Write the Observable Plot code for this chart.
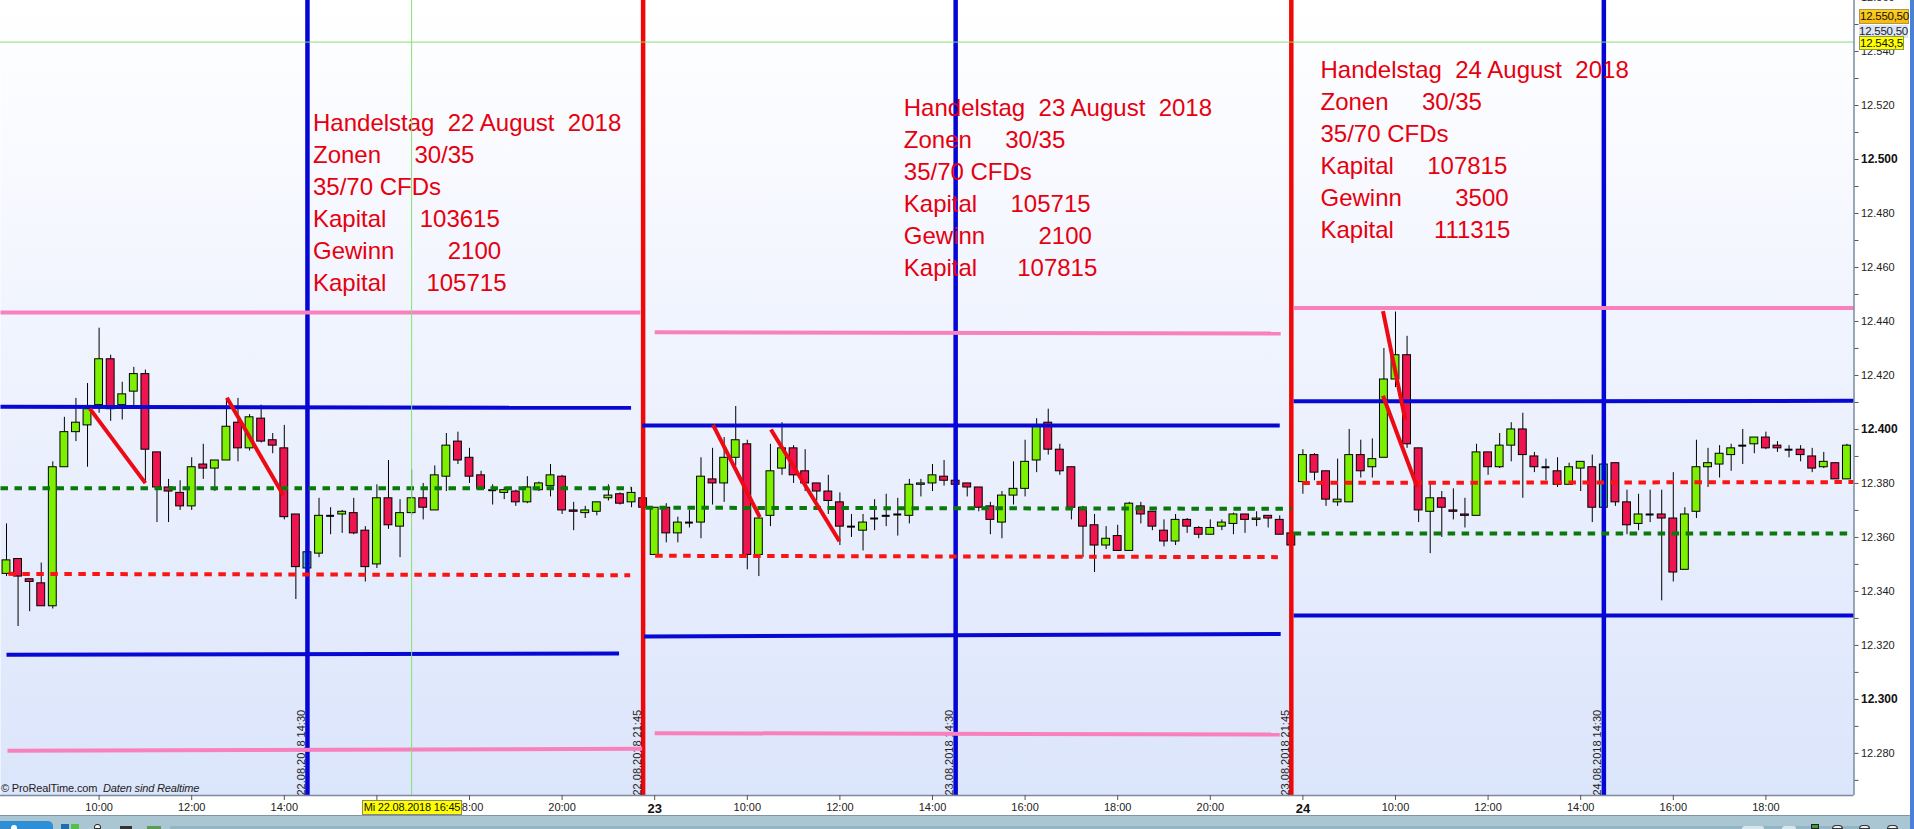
<!DOCTYPE html>
<html lang="de">
<head>
<meta charset="utf-8">
<title>Handelstage 22.–24. August 2018</title>
<script src="https://cdn.jsdelivr.net/npm/d3@7"></script>
<script src="https://cdn.jsdelivr.net/npm/@observablehq/plot@0.6"></script>
<style>
  html, body { margin: 0; padding: 0; background: #fff; overflow: hidden; }
  #page { position: relative; width: 1914px; height: 829px; overflow: hidden; font-family: "Liberation Sans", Arial, sans-serif; }
  #chart svg { display: block; }
  .tag { position: absolute; box-sizing: border-box; font-size: 11.5px; line-height: 13px; color: #111; white-space: pre; text-align: center; letter-spacing: -.25px; }
  .abs { position: absolute; }
</style>
</head>
<body>
<div id="page">
  <div id="chart"></div>
  <div class="abs" style="left:1px;top:782px;font-size:11px;line-height:13px;color:#222;white-space:pre;letter-spacing:-.15px">© ProRealTime.com  <i>Daten sind Realtime</i></div>
  <div class="tag" style="left:1859px;top:25px;width:49px;height:13px;background:#dbe5f6;color:#222">12.550,50</div>
  <div class="tag" style="left:1859px;top:9px;width:50px;height:15px;background:linear-gradient(#fdd020,#f9b90a);border:1px solid #a89a4a">12.550,50</div>
  <div class="tag" style="left:1859px;top:36px;width:45px;height:14px;background:#ffff00;border:1px solid #8a9a4a">12.543,5</div>
  <div class="tag" style="left:362px;top:800px;width:100px;height:15px;background:#ffff00;border:1px solid #8a8a6a;font-size:11px;letter-spacing:-.2px">Mi 22.08.2018 16:45</div>
  <div class="abs" style="left:0;top:815px;width:1914px;height:14px;background:#a9c6d2;border-top:1px solid #7d97a6;box-sizing:border-box"></div>
  <div class="abs" style="left:0;top:821px;width:53px;height:8px;background:#2e8fd6;border-radius:0 5px 0 0"></div>
  <div class="abs" style="left:11px;top:825px;width:6px;height:4px;background:#fff;border-radius:3px 3px 0 0"></div>
  <div class="abs" style="left:61px;top:824px;width:8px;height:5px;background:#1f6fb0"></div>
  <div class="abs" style="left:71px;top:824px;width:8px;height:5px;background:#53c04a"></div>
  <div class="abs" style="left:94px;top:824px;width:7px;height:5px;background:#f4f4f4;border:1px solid #222;border-radius:3px 3px 0 0;box-sizing:border-box"></div>
  <div class="abs" style="left:120px;top:826px;width:12px;height:3px;background:#333"></div>
  <div class="abs" style="left:147px;top:826px;width:14px;height:3px;background:#5a9a5a"></div>
  <div class="abs" style="left:170px;top:826px;width:1700px;height:3px;background:#94b5c3"></div>
  <div class="abs" style="left:1742px;top:826px;width:22px;height:3px;background:#d6e6ee;border-radius:4px 4px 0 0"></div>
  <div class="abs" style="left:1782px;top:826px;width:14px;height:3px;background:#d6e6ee;border-radius:4px 4px 0 0"></div>
  <div class="abs" style="left:1811px;top:824px;width:8px;height:5px;background:#3a9a3a;border:1px solid #222;box-sizing:border-box"></div>
  <div class="abs" style="left:1832px;top:825px;width:11px;height:4px;background:#eef;border:1px solid #333;border-radius:6px 6px 0 0;box-sizing:border-box"></div>
  <div class="abs" style="left:1859px;top:825px;width:11px;height:4px;background:#eef;border:1px solid #333;border-radius:6px 6px 0 0;box-sizing:border-box"></div>
  <div class="abs" style="left:1887px;top:825px;width:11px;height:4px;background:#eef;border:1px solid #333;border-radius:6px 6px 0 0;box-sizing:border-box"></div>
  <div class="abs" style="left:1910px;top:0;width:4px;height:829px;background:#4a80d8"></div>
</div>
<script>
// Candle values, 15-minute bars; session hours run on from 08:00 on 22 August
const opens = [12346.5,12352,12344.5,12343,12334.5,12386,12399,12401.5,12409,12426,
12409,12414,12420.5,12391.5,12378.5,12376.5,12371.5,12387,12385.5,12388.5,
12402.5,12393,12404,12396,12393,12368.5,12348.5,12354,12368,12368.5,
12369,12362.5,12350,12374.5,12364,12369,12374.5,12370,12382.5,12395.5,
12389.5,12383,12377.5,12376.5,12377,12373,12377.5,12379,12382.5,12370,
12369,12369.5,12374.5,12376,12373,12374.5,12353.5,12371,12361.5,12365.5,
12365.5,12381.5,12380,12389.5,12394.5,12353.5,12368,12385.5,12393,12384.5,
12380,12377,12373,12364,12362.5,12367,12368,12368.5,12368,12379.5,
12380,12382.5,12381,12380,12378.5,12371.5,12365.5,12375.5,12378,12388.5,
12402.5,12392.5,12386,12371,12364.5,12357,12360.5,12355,12371.5,12369.5,
12362.5,12358.5,12366.5,12363.5,12361,12364,12365,12368.5,12366.5,12368,
12366.5,12361.5,12380.5,12390.5,12384.5,12373,12373,12390.5,12386,12389.5,
12418.5,12427.5,12393,12369.5,12374.5,12370,12368.5,12368,12391.5,12386,
12394,12400,12390,12386,12384.5,12379.5,12385.5,12386,12371,12387.5,
12373,12365,12368.5,12368.5,12367,12348,12369.5,12386,12387,12390.5,
12394,12394.5,12397,12394,12392.5,12392.5,12390,12386,12387.5,12381.5];
const closes = [12351.5,12345.5,12343.5,12334.5,12386,12399,12402.5,12407.5,12426,12407.5,
12413,12420.5,12392.5,12378.5,12377,12371.5,12386,12385.5,12388.5,12401,
12393,12404.5,12395.5,12394,12367.5,12349,12354.5,12368,12368,12369.5,
12361.5,12349,12374.5,12364.5,12369,12374.5,12371,12383,12394,12388.5,
12382.5,12378,12377.5,12377.5,12373,12378.5,12380,12383,12370,12369.5,
12370,12373,12375.5,12372.5,12376.5,12371,12371,12361.5,12365.5,12365.5,
12382.5,12380,12389.5,12396,12353.5,12367,12384.5,12393,12383,12380,
12377,12373.5,12364,12364,12365.5,12367,12368,12368.5,12379.5,12380,
12383,12381,12379.5,12378.5,12371,12366.5,12375.5,12378,12388,12401,
12392.5,12384.5,12371,12364,12357,12359.5,12355,12372.5,12368.5,12364,
12358.5,12366.5,12364,12361,12363.5,12365.5,12368.5,12366.5,12367,12367,
12361,12357,12390.5,12384,12374,12374,12390.5,12384.5,12389,12418.5,
12427.5,12394.5,12370,12374.5,12371,12369.5,12368,12391.5,12386,12394,
12400,12390.5,12386,12386,12379.5,12386,12388,12371,12387,12373,
12364.5,12368.5,12368.5,12367,12347,12368.5,12386,12387.5,12391,12393,
12394,12397,12393,12393,12392.5,12390.5,12385.5,12388,12381.5,12394];
const highs = [12365,12352,12344.5,12350.5,12388,12404.5,12411.5,12417,12437.5,12427.5,
12417.5,12423,12422,12391.5,12381.5,12381,12389.5,12394.5,12388.5,12411.5,
12411.5,12405.5,12409,12398.5,12401.5,12368.5,12354.5,12374.5,12371,12370,
12374.5,12364,12379.5,12388.5,12374,12385,12380,12386.5,12398.5,12399,
12393,12384.5,12379.5,12378.5,12377.5,12382.5,12380.5,12387,12383,12373,
12371.5,12373,12379.5,12376.5,12378.5,12374.5,12371,12372.5,12367.5,12370,
12389.5,12393,12397,12408.5,12396,12368.5,12394.5,12402.5,12394,12392.5,
12380,12383,12376.5,12368.5,12368.5,12374,12376,12374.5,12381.5,12381.5,
12387,12388.5,12381.5,12380,12378.5,12373,12377,12388,12396,12404,
12407.5,12394.5,12386,12371.5,12368.5,12364,12364.5,12373,12373,12369.5,
12366.5,12368.5,12367,12364,12366.5,12366.5,12369,12368.5,12369.5,12368,
12368,12361.5,12392.5,12391,12384.5,12389,12400,12396,12396.5,12430,
12443.5,12434.5,12393,12380,12377,12378,12374.5,12394.5,12391.5,12398.5,
12402.5,12406,12391.5,12389,12389.5,12387.5,12388,12390.5,12387,12387.5,
12377.5,12376,12377.5,12377.5,12384,12371,12396,12393,12394,12394.5,
12400,12397,12399,12395.5,12394,12394,12393,12391.5,12387.5,12394.5];
const lows = [12345.5,12327,12332.5,12334.5,12333.5,12386,12395.5,12386,12406,12403,
12403.5,12407.5,12380.5,12365.5,12365.5,12370,12370,12381.5,12377,12388.5,
12388,12392,12395,12391,12366.5,12337,12346.5,12352.5,12361,12361.5,
12361,12343.5,12348.5,12363,12352.5,12368,12366.5,12370,12377,12387,
12380,12377.5,12372,12374,12371.5,12372.5,12377,12375,12368.5,12362.5,
12367,12368,12373.5,12372,12371,12370,12353.5,12358,12358,12363.5,
12359.5,12372,12373,12386.5,12348,12345.5,12364,12383,12380,12377,
12373.5,12368.5,12357,12360,12355,12362.5,12364,12360.5,12365,12375,
12377,12379,12379,12375,12369.5,12361,12359.5,12372,12375,12384,
12390.5,12383,12366.5,12352.5,12347,12355.5,12355,12355,12365,12362.5,
12356.5,12357,12361.5,12359.5,12361,12362.5,12361,12361.5,12364,12363.5,
12361,12357,12376,12381,12371.5,12371.5,12373,12382,12382,12389.5,
12415.5,12393,12365.5,12354,12360,12366.5,12363.5,12368,12383,12385.5,
12388,12374.5,12384,12381,12378.5,12379.5,12377,12365.5,12371,12371.5,
12361,12362.5,12365.5,12336.5,12343.5,12348,12367,12378.5,12382,12384.5,
12387,12391,12392.5,12391.5,12389.5,12388,12384,12385.5,12381.5,12381.5];
const barHours = 0.25;
const bodyHalfHours = 0.085;
const barsUnderLine = [26, 138];

// Level lines: [from hour, to hour, level at start, level at end]
const pinkLevels = [[-0.13,13.69,12443.3,12443.3],[0.02,13.73,12281,12281.7],[14,27.52,12436,12435.5],[14,27.5,12287.5,12287],[27.8,39.9,12445,12445]];
const blueLevels = [[-0.13,13.49,12408.4,12408],[0,13.23,12316.5,12317],[13.73,27.5,12401.5,12401.5],[13.77,27.52,12323.3,12324.2],[27.8,39.9,12410.4,12410.6],[27.8,39.9,12331.1,12331.1]];
const greenDashed = [[-0.13,13.49,12378.2,12378.2],[13.8,27.75,12371,12370.6],[27.8,39.9,12361.5,12361.5]];
const redDashed = [[0.04,13.47,12346.5,12346],[14.01,27.46,12353.2,12352.7],[27.99,39.9,12380.2,12380.5]];
const tradeLines = [[1.8,3,12407.7,12380.1],[4.76,5.98,12411.7,12375.6],[15.26,16.27,12401.7,12367.5],[16.51,17.99,12400,12358.6],[29.73,30.21,12443.8,12403.6],[29.73,30.47,12412.5,12378.6]];

// Session markers
const blueMarkers = [6.5, 20.5, 34.5];
const redMarkers = [13.75, 27.75];
const markerHours = [6.5, 13.75, 20.5, 27.75, 34.5];
const markerLabels = ["22.08.2018 14:30","22.08.2018 21:45","23.08.2018 14:30","23.08.2018 21:45","24.08.2018 14:30"];
const crosshairHour = 8.75;
const crosshairPrice = 12543.5;

// Annotation blocks
const noteHours = [6.62, 19.38, 28.38];
const notePrices = [12484.7, 12490.3, 12504.3];
const noteTexts = [
  "Handelstag  22 August  2018\nZonen     30/35\n35/70 CFDs\nKapital     103615\nGewinn        2100\nKapital      105715",
  "Handelstag  23 August  2018\nZonen     30/35\n35/70 CFDs\nKapital     105715\nGewinn        2100\nKapital      107815",
  "Handelstag  24 August  2018\nZonen     30/35\n35/70 CFDs\nKapital     107815\nGewinn        3500\nKapital      111315"
];

// Axes
const hourTicks = [2,4,6,8,10,12,16,18,20,22,24,26,30,32,34,36,38];
const hourLabels = ["10:00","12:00","14:00","16:00","18:00","20:00","10:00","12:00","14:00","16:00","18:00","20:00","10:00","12:00","14:00","16:00","18:00"];
const dayTicks = [14, 28];
const dayLabels = ["23", "24"];
const priceLabelled = [12280,12320,12340,12360,12380,12420,12440,12460,12480,12520,12540,12560];
const priceBold = [12300,12400,12500];
const priceMinor = [12270,12290,12310,12330,12350,12370,12390,12410,12430,12450,12470,12490,12510,12530,12550];
const xDomain = [-0.1296, 39.903];
const yDomain = [12264.4, 12558.9];

const candles = opens.map((o, i) => ({t: i * barHours, i, o, c: closes[i], h: highs[i], l: lows[i]}));
const bodies = candles.filter(d => d.o !== d.c);
const dojis = candles.filter(d => d.o === d.c);
const bodyFill = d => barsUnderLine.includes(d.i) ? "#58c0b4" : d.c > d.o ? "#7cf000" : "#ee1450";
const segment = (rows, options) => Plot.link(rows, {x1: d => d[0], x2: d => d[1], y1: d => d[2], y2: d => d[3], ...options});
const fmtPrice = v => d3.format(",")(v).replace(",", ".");

const backdrop = () => {
  const defs = d3.create("svg:defs");
  const g = defs.append("linearGradient").attr("id", "panelFill").attr("x1", 0).attr("y1", 0).attr("x2", 0).attr("y2", 1);
  g.append("stop").attr("offset", "0%").attr("stop-color", "#ffffff");
  g.append("stop").attr("offset", "45%").attr("stop-color", "#eff3fe");
  g.append("stop").attr("offset", "100%").attr("stop-color", "#dbe5fb");
  return defs.node();
};

const chart = Plot.plot({
  width: 1914, height: 829,
  marginLeft: 0, marginRight: 60.5, marginTop: 0, marginBottom: 34,
  style: {background: "transparent", fontFamily: "'Liberation Sans', Arial, sans-serif", overflow: "hidden"},
  x: {domain: xDomain, label: null},
  y: {domain: yDomain, label: null},
  marks: [
    backdrop,
    Plot.frame({fill: "url(#panelFill)", stroke: null}),
    Plot.ruleX(candles, {x: "t", y1: "l", y2: "h", stroke: "#000", strokeWidth: 1}),
    Plot.rect(bodies, {x1: d => d.t - bodyHalfHours, x2: d => d.t + bodyHalfHours, y1: "o", y2: "c", fill: bodyFill, stroke: "#000", strokeWidth: 1}),
    Plot.ruleY(dojis, {x1: d => d.t - bodyHalfHours, x2: d => d.t + bodyHalfHours, y: "o", stroke: "#000", strokeWidth: 2}),
    Plot.ruleX(blueMarkers, {stroke: "#0505d6", strokeWidth: 4.5}),
    Plot.ruleX(redMarkers, {stroke: "#ee0808", strokeWidth: 4.5}),
    Plot.text(markerHours, {x: d => d, text: (d, i) => markerLabels[i], frameAnchor: "bottom", rotate: -90, textAnchor: "start", dx: -2.5, fontSize: 11, fill: "#222"}),
    segment(pinkLevels, {stroke: "#f780bd", strokeWidth: 4}),
    segment(greenDashed, {stroke: "#0a780a", strokeWidth: 4, strokeDasharray: "7.5,6.5"}),
    segment(redDashed, {stroke: "#fa1414", strokeWidth: 4, strokeDasharray: "7.5,6.5"}),
    segment(blueLevels, {stroke: "#0808d4", strokeWidth: 4}),
    segment(tradeLines, {stroke: "#ee0a14", strokeWidth: 4}),
    Plot.text(noteTexts, {x: (d, i) => noteHours[i], y: (d, i) => notePrices[i], text: d => d, textAnchor: "start", fontSize: 24, lineHeight: 1.333, fill: "#e6000f"}),
    Plot.ruleX([crosshairHour], {stroke: "#86e070", strokeWidth: 1}),
    Plot.ruleY([crosshairPrice], {stroke: "#86e070", strokeWidth: 1}),
    Plot.ruleX([xDomain[1]], {stroke: "#7a8ba0", strokeWidth: 1.5}),
    Plot.ruleY([yDomain[0]], {stroke: "#7a8ba0", strokeWidth: 1.5}),
    Plot.axisY({anchor: "right", ticks: priceMinor, tickSize: 4, tickFormat: () => "", label: null, stroke: "#555"}),
    Plot.axisY({anchor: "right", ticks: priceLabelled, tickSize: 4, tickPadding: 3, tickFormat: fmtPrice, fontSize: 11, fill: "#222", label: null, stroke: "#555"}),
    Plot.axisY({anchor: "right", ticks: priceBold, tickSize: 4, tickPadding: 3, tickFormat: fmtPrice, fontSize: 12, fontWeight: "bold", fill: "#111", label: null, stroke: "#555"}),
    Plot.axisX({anchor: "bottom", ticks: hourTicks, tickSize: 5, tickPadding: 3, tickFormat: d => hourLabels[hourTicks.indexOf(d)], fontSize: 11, fill: "#222", label: null, stroke: "#555"}),
    Plot.axisX({anchor: "bottom", ticks: dayTicks, tickSize: 5, tickPadding: 3, tickFormat: d => dayLabels[dayTicks.indexOf(d)], fontSize: 13, fontWeight: "bold", fill: "#111", label: null, stroke: "#555"})
  ]
});
document.getElementById("chart").appendChild(chart);
</script>
</body>
</html>
